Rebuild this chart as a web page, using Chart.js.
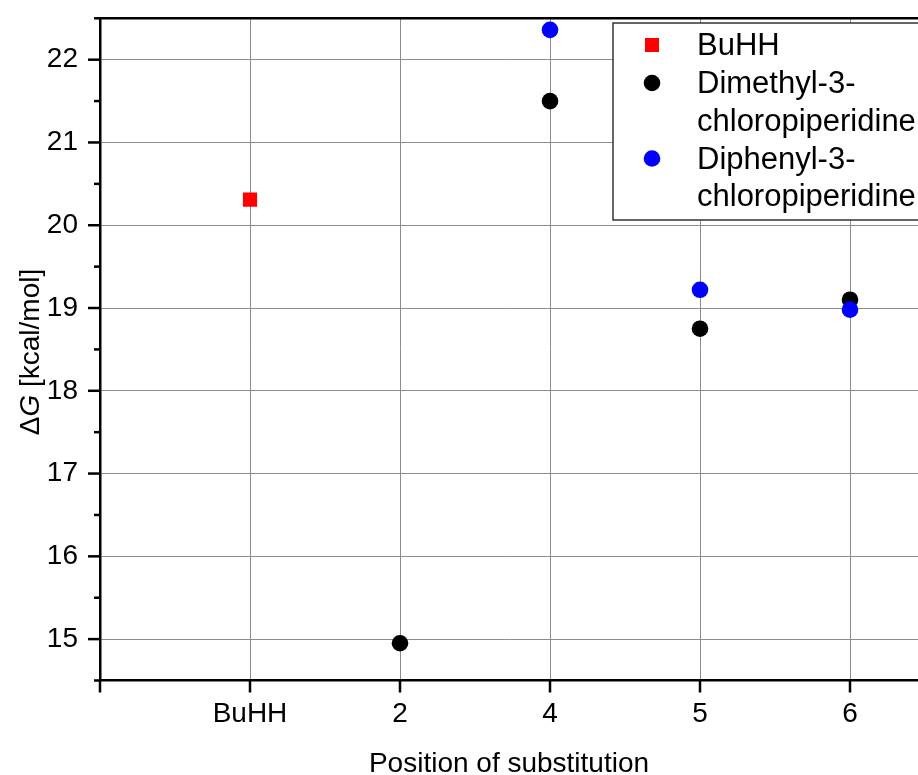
<!DOCTYPE html>
<html>
<head>
<meta charset="utf-8">
<script src="https://cdn.jsdelivr.net/npm/chart.js@4.4.1/dist/chart.umd.min.js"></script>
<style>
  body { margin: 0; background: #fff; }
</style>
</head>
<body>
<canvas id="dgChart" width="918" height="775"></canvas>
<script>
// x categories (index 0 is the empty left edge of the axis)
const xLabels = ['', 'BuHH', '2', '4', '5', '6'];
const yTicks = [15, 16, 17, 18, 19, 20, 21, 22];

const buhhPos = ['BuHH'];
const buhhDG = [20.31];
const dimethylPos = ['2', '4', '5', '6'];
const dimethylDG = [14.95, 21.50, 18.75, 19.10];
const diphenylPos = ['4', '5', '6'];
const diphenylDG = [22.36, 19.22, 18.98];

function toPoints(pos, vals) {
  return pos.map((p, i) => ({ x: xLabels.indexOf(p), y: vals[i] }));
}

const FONT = '"Liberation Sans", Arial, sans-serif';
const GRID = '#8c8c8c';

// outward ticks (major + minor), top frame, axis titles and boxed legend
const decorPlugin = {
  id: 'decor',
  afterDraw(chart) {
    const ctx = chart.ctx;
    const a = chart.chartArea;
    const xs = chart.scales.x, ys = chart.scales.y;
    ctx.save();
    ctx.strokeStyle = '#000';
    ctx.lineWidth = 2.5;

    ctx.beginPath();
    ctx.moveTo(a.left - 1.25, a.top);
    ctx.lineTo(a.right, a.top);
    ctx.stroke();

    for (let v = ys.min; v <= ys.max + 1e-9; v += 0.5) {
      const y = ys.getPixelForValue(v);
      const len = Math.abs(v - Math.round(v)) < 1e-9 ? 12 : 6;
      ctx.beginPath();
      ctx.moveTo(a.left - len, y);
      ctx.lineTo(a.left, y);
      ctx.stroke();
    }
    xs.ticks.forEach(t => {
      const x = xs.getPixelForValue(t.value);
      ctx.beginPath();
      ctx.moveTo(x, a.bottom);
      ctx.lineTo(x, a.bottom + 12);
      ctx.stroke();
    });

    // axis titles
    ctx.fillStyle = '#000';
    ctx.font = '28px ' + FONT;
    ctx.textAlign = 'center';
    ctx.textBaseline = 'alphabetic';
    ctx.fillText('Position of substitution', (a.left + a.right) / 2, 772);

    const parts = [['\u0394', ''], ['G', 'italic '], [' [kcal/mol]', '']];
    let w = 0;
    parts.forEach(p => { ctx.font = p[1] + '28px ' + FONT; w += ctx.measureText(p[0]).width; });
    ctx.save();
    ctx.translate(38.5, 352);
    ctx.rotate(-Math.PI / 2);
    ctx.textAlign = 'left';
    let tx = -w / 2;
    parts.forEach(p => {
      ctx.font = p[1] + '28px ' + FONT;
      ctx.fillText(p[0], tx, 0);
      tx += ctx.measureText(p[0]).width;
    });
    ctx.restore();

    // legend
    const lx = 613, ly = 23;
    ctx.fillStyle = '#fff';
    ctx.fillRect(lx, ly, 340, 197);
    ctx.strokeStyle = '#333';
    ctx.lineWidth = 1.5;
    ctx.strokeRect(lx, ly, 340, 197);
    ctx.font = '31px ' + FONT;
    ctx.textAlign = 'left';
    let base = 55;
    chart.data.datasets.forEach(ds => {
      ctx.fillStyle = ds.backgroundColor;
      const my = base - 10;
      if (ds.pointStyle === 'rect') {
        ctx.fillRect(652 - 7, my - 7, 14, 14);
      } else {
        ctx.beginPath();
        ctx.arc(652, my, ds.pointRadius, 0, Math.PI * 2);
        ctx.fill();
      }
      ctx.fillStyle = '#000';
      const lines = ds.label.replace('-3-', '-3-\n').split('\n');
      lines.forEach((ln, i) => ctx.fillText(ln, 697, base + i * 37.5));
      base += lines.length * 37.5 + 0.5;
    });
    ctx.restore();
  }
};

new Chart(document.getElementById('dgChart').getContext('2d'), {
  type: 'scatter',
  data: {
    datasets: [
      { label: 'BuHH', data: toPoints(buhhPos, buhhDG), backgroundColor: '#ff0000',
        pointStyle: 'rect', pointRadius: 10, borderWidth: 0, order: 2 },
      { label: 'Dimethyl-3-chloropiperidine', data: toPoints(dimethylPos, dimethylDG),
        backgroundColor: '#000000', pointStyle: 'circle', pointRadius: 8.3, borderWidth: 0, order: 1 },
      { label: 'Diphenyl-3-chloropiperidine', data: toPoints(diphenylPos, diphenylDG),
        backgroundColor: '#0000ff', pointStyle: 'circle', pointRadius: 8.3, borderWidth: 0, order: 0 }
    ]
  },
  options: {
    responsive: false,
    animation: false,
    devicePixelRatio: 1,
    layout: { autoPadding: false, padding: { top: 18.3, left: 0, right: 0, bottom: 0 } },
    plugins: { legend: { display: false }, tooltip: { enabled: false } },
    scales: {
      x: {
        type: 'linear',
        min: 0,
        max: 818 / 150,
        afterBuildTicks: s => { s.ticks = xLabels.map((l, i) => ({ value: i })); },
        afterFit: s => { s.height = 94.5; s.paddingLeft = 0; s.paddingRight = 0; },
        ticks: {
          callback: v => xLabels[v],
          autoSkip: false, maxRotation: 0,
          color: '#000', padding: 17,
          font: { family: FONT, size: 28 }
        },
        grid: {
          color: c => (c.tick && c.tick.value === 0) ? 'rgba(0,0,0,0)' : GRID,
          lineWidth: 1, drawTicks: false
        },
        border: { color: '#000', width: 2.5 }
      },
      y: {
        min: 14.5,
        max: 22.5,
        afterBuildTicks: s => { s.ticks = yTicks.map(v => ({ value: v })); },
        afterFit: s => { s.width = 100; s.paddingTop = 0; s.paddingBottom = 0; },
        ticks: {
          color: '#000', padding: 22,
          font: { family: FONT, size: 28 }
        },
        grid: { color: GRID, lineWidth: 1, drawTicks: false },
        border: { color: '#000', width: 2.5 }
      }
    }
  },
  plugins: [decorPlugin]
});
</script>
</body>
</html>
